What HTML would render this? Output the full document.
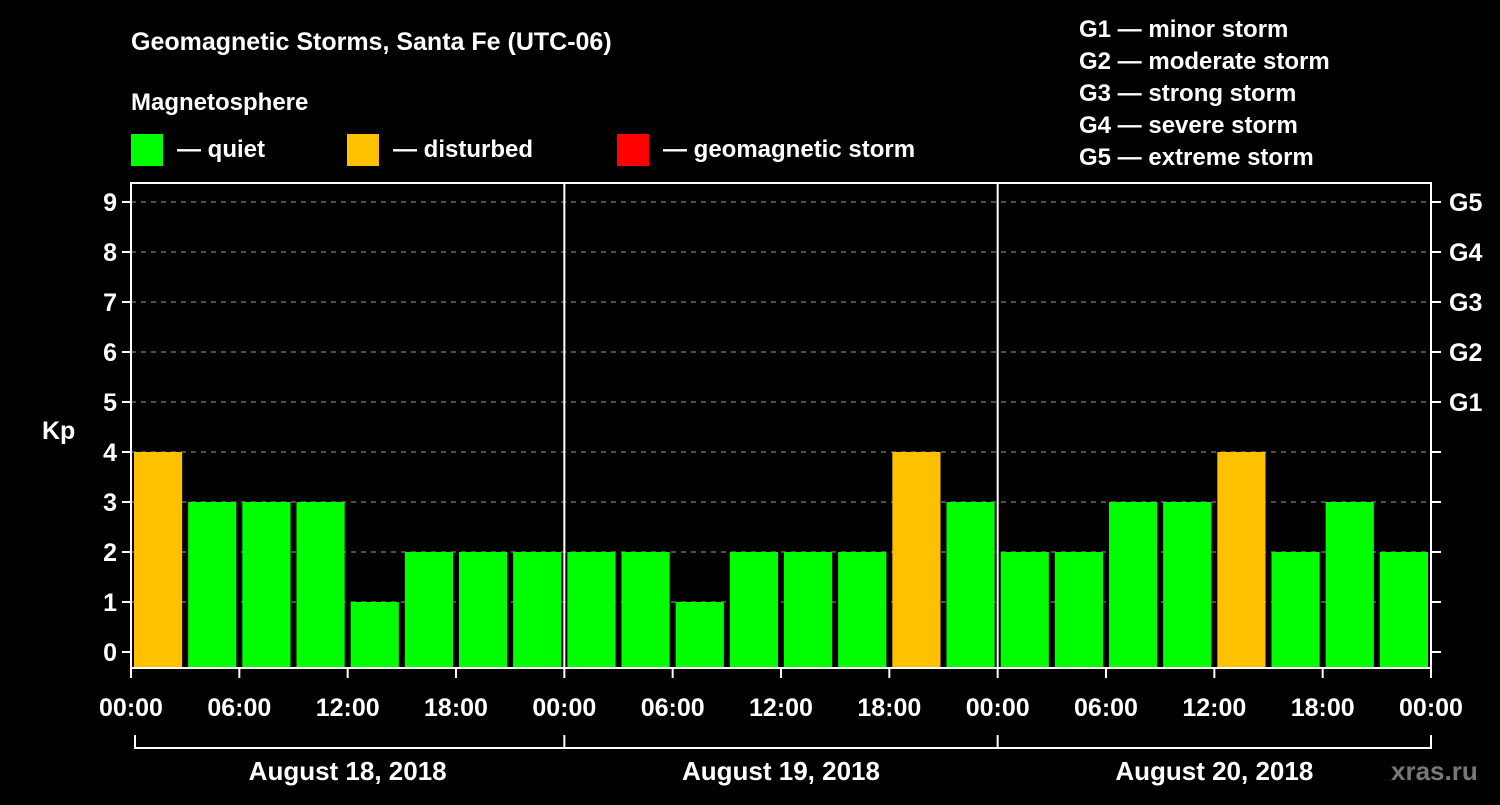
<!DOCTYPE html>
<html><head><meta charset="utf-8"><style>
body{margin:0;background:#000;}
svg text{font-family:"Liberation Sans",Arial,sans-serif;font-weight:bold;fill:#fff;}
</style></head><body>
<svg width="1500" height="800" viewBox="0 0 1500 800">
<rect width="1500" height="800" fill="#000"/>
<text x="131" y="50" font-size="25">Geomagnetic Storms, Santa Fe (UTC-06)</text>
<text x="131" y="110" font-size="24">Magnetosphere</text>
<g><rect x="131" y="134" width="32" height="32" fill="#00ff00"/><text x="177" y="157" font-size="24">— quiet</text></g>
<g><rect x="347" y="134" width="32" height="32" fill="#ffc000"/><text x="393" y="157" font-size="24">— disturbed</text></g>
<g><rect x="617" y="134" width="32" height="32" fill="#ff0000"/><text x="663" y="157" font-size="24">— geomagnetic storm</text></g>
<g font-size="24">
<text x="1079" y="37">G1 — minor storm</text>
<text x="1079" y="69">G2 — moderate storm</text>
<text x="1079" y="101">G3 — strong storm</text>
<text x="1079" y="133">G4 — severe storm</text>
<text x="1079" y="165">G5 — extreme storm</text>
</g>
<text x="42" y="439" font-size="25">Kp</text>
<text x="1391" y="780" font-size="26" style="fill:#777">xras.ru</text>
<g id="plot"></g>
</svg>
<script>
const kpValues=[4,3,3,3,1,2,2,2, 2,2,1,2,2,2,4,3, 2,2,3,3,4,2,3,2];
const yTicks=[0,1,2,3,4,5,6,7,8,9];
const gLabels=["G1","G2","G3","G4","G5"];
const timeLabels=["00:00","06:00","12:00","18:00","00:00","06:00","12:00","18:00","00:00","06:00","12:00","18:00","00:00"];
const dayLabels=["August 18, 2018","August 19, 2018","August 20, 2018"];
const L=131,R=1431,T=183,B=668;
const slot=(R-L)/kpValues.length;
const y=v=>652-50*v;
const xs=i=>L+i*slot;
const g=document.getElementById('plot');
const NS='http://www.w3.org/2000/svg';
function mk(t,a,p){const e=document.createElementNS(NS,t);for(const k in a)e.setAttribute(k,a[k]);(p||g).appendChild(e);return e;}
yTicks.forEach(v=>{
 if(v>0){const l=mk('line',{x1:L,x2:R,y1:y(v),y2:y(v),stroke:'#999','stroke-dasharray':'5,5','stroke-width':1});
 
 }
 mk('line',{x1:L-9,x2:L,y1:y(v),y2:y(v),stroke:'#fff','stroke-width':2});
 mk('line',{x1:R,x2:R+10,y1:y(v),y2:y(v),stroke:'#fff','stroke-width':2});
 const t=mk('text',{x:L-14,y:y(v)+9,'font-size':25,'text-anchor':'end'});t.textContent=v;
 
 
});
gLabels.forEach((s,i)=>{const t=mk('text',{x:R+18,y:y(5+i)+9,'font-size':25});t.textContent=s;
 
 });
kpValues.forEach((v,i)=>{
 const c=v>=5?'#ff0000':(v>=4?'#ffc000':'#00ff00');
 const r=mk('rect',{x:xs(i)+3,y:y(v),width:slot-6,height:B-y(v),fill:c});
 
 
});
for(let i=0;i<=kpValues.length;i++){mk('line',{x1:xs(i),x2:xs(i),y1:B,y2:B+(i%2?0:10),stroke:'#fff','stroke-width':2});}
for(let d=1;d<dayLabels.length;d++){const x=L+d*(R-L)/3;mk('line',{x1:x,x2:x,y1:T,y2:B,stroke:'#fff','stroke-width':2});}
mk('rect',{x:L,y:T,width:R-L,height:B-T,fill:'none',stroke:'#fff','stroke-width':2});
timeLabels.forEach((s,i)=>{const x=L+i*(R-L)/(timeLabels.length-1);const t=mk('text',{x:x,y:716,'font-size':25,'text-anchor':'middle'});t.textContent=s;
 
 });
mk('line',{x1:135,x2:R,y1:748,y2:748,stroke:'#fff','stroke-width':2});
for(let d=0;d<=dayLabels.length;d++){const x=d==0?135:L+d*(R-L)/3;mk('line',{x1:x,x2:x,y1:735,y2:749,stroke:'#fff','stroke-width':2});}
dayLabels.forEach((s,d)=>{const x=L+(d+0.5)*(R-L)/3;const t=mk('text',{x:x,y:780,'font-size':26,'text-anchor':'middle'});t.textContent=s;
 
 });
</script>
</body></html>
